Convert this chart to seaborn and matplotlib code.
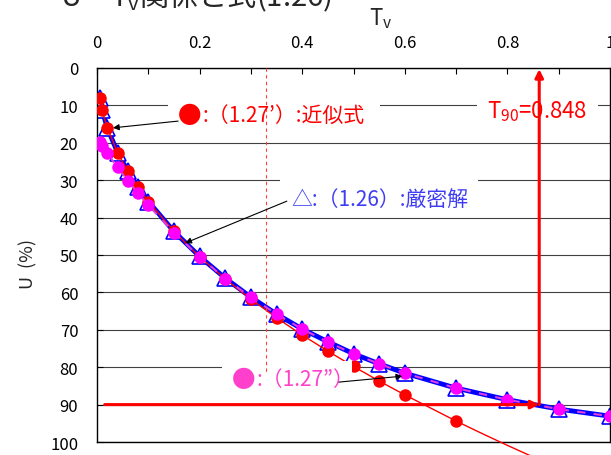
import numpy as np
import pandas as pd
import matplotlib
matplotlib.use("Agg")
import matplotlib.pyplot as plt
import matplotlib.patches as patches
import seaborn as sns

# values
tv = [0.005, 0.01, 0.02, 0.04, 0.06, 0.08, 0.1, 0.15, 0.2, 0.25, 0.3,
      0.35, 0.4, 0.45, 0.5, 0.55, 0.6, 0.7, 0.8, 0.9, 1.0]
u_exact = [8.0, 11.3, 16.0, 22.6, 27.6, 31.9, 35.7, 43.7, 50.4, 56.2, 61.3,
           65.8, 69.8, 73.2, 76.4, 79.1, 81.6, 85.6, 88.7, 91.2, 93.1]
u_mag = [19.9, 20.9, 22.8, 26.6, 30.1, 33.5, 36.7, 44.0, 50.5, 56.3, 61.3,
         65.8, 69.8, 73.3, 76.4, 79.1, 81.6, 85.6, 88.7, 91.2, 93.1]
tv_red = tv[:18]
u_red = [8.0, 11.3, 16.0, 22.6, 27.6, 31.9, 35.7, 43.7, 50.5, 56.4, 61.8,
         66.8, 71.4, 75.7, 79.8, 83.7, 87.4, 94.4]
tv_tail = [0.7, 0.75, 0.8, 0.85]
u_tail = [94.4, 97.7, 100.9, 104.0]

T90 = 0.862
T_dash = 0.33

xticks = [0, 0.2, 0.4, 0.6, 0.8, 1.0]
xticklabels = ["0", "0.2", "0.4", "0.6", "0.8", "1"]
yticks = list(range(0, 101, 10))

sns.set_theme(style="white")
plt.rcParams['font.family'] = ['Noto Sans CJK JP', 'DejaVu Sans']
plt.rcParams['mathtext.fontset'] = 'custom'
plt.rcParams['mathtext.rm'] = 'Noto Sans CJK JP'
plt.rcParams['mathtext.it'] = 'Noto Sans CJK JP'
plt.rcParams['mathtext.default'] = 'rm'

RED = "#FF0000"
BLUE = "#0000FF"
MAG = "#FF00FF"
PINK = "#FF40CC"

fig = plt.figure(figsize=(6.11, 4.56), dpi=100)
ax = fig.add_axes([0.1588, 0.0285, 0.8396, 0.8202])

exact = pd.DataFrame({"Tv": tv, "U": u_exact})
mag = pd.DataFrame({"Tv": tv, "U": u_mag})
red = pd.DataFrame({"Tv": tv_red, "U": u_red})
tail = pd.DataFrame({"Tv": tv_tail, "U": u_tail})

sns.lineplot(data=exact, x="Tv", y="U", estimator=None, sort=False, ax=ax,
             color=BLUE, linewidth=3.5, marker="^", markersize=11,
             markerfacecolor="white", markeredgecolor=BLUE,
             markeredgewidth=1.2, zorder=2)
sns.lineplot(data=tail, x="Tv", y="U", estimator=None, sort=False, ax=ax,
             color=RED, linewidth=1.0, zorder=3, clip_on=False)
sns.lineplot(data=red, x="Tv", y="U", estimator=None, sort=False, ax=ax,
             color=RED, linewidth=1.0, marker="o", markersize=9,
             markeredgewidth=0, zorder=3)
sns.lineplot(data=mag, x="Tv", y="U", estimator=None, sort=False, ax=ax,
             color="#E040E0", linewidth=1.5, linestyle=(0, (4, 4)),
             marker="o", markersize=9, markerfacecolor=MAG,
             markeredgewidth=0, zorder=4)

ax.set_xlim(0, 1)
ax.set_ylim(100, 0)
ax.xaxis.tick_top()
ax.set_xticks(xticks)
ax.set_xticklabels(xticklabels)
ax.set_xticks(np.arange(0.1, 1.0, 0.2), minor=True)
ax.set_yticks(yticks)
ax.tick_params(axis="x", which="both", direction="in", length=4, width=0.8,
               top=True, bottom=False, labeltop=True, labelbottom=False,
               pad=12, labelsize=12, colors="black")
ax.tick_params(axis="y", which="major", direction="in", length=4, width=0.8,
               left=True, pad=13.5, labelsize=12, colors="black")
ax.yaxis.grid(True, color="#404040", linewidth=0.8)
ax.xaxis.grid(False)
ax.set_axisbelow(True)
for s in ax.spines.values():
    s.set_color("black")
    s.set_linewidth(1.0)
ax.set_xlabel("")
ax.set_ylabel("")

# white label boxes covering grid
boxes = [(0.138, 8.3, 0.552, 17.6), (0.741, 5.9, 0.977, 16.0),
         (0.357, 29.1, 0.743, 39.3), (0.244, 78.3, 0.497, 88.5)]
for x0, y0, x1, y1 in boxes:
    ax.add_patch(patches.Rectangle((x0, y0), x1 - x0, y1 - y0,
                                   facecolor="white", edgecolor="none",
                                   zorder=6))

ax.plot([T_dash, T_dash], [0, 81.5], color="#FF4040", lw=0.8,
        linestyle=(0, (3, 3)), zorder=7)

# red arrows for T90
ax.annotate("", xy=(T90, 90), xytext=(0.015, 90), zorder=8,
            arrowprops=dict(arrowstyle="-|>", color=RED, lw=2.2,
                            mutation_scale=12, shrinkA=0, shrinkB=0))
ax.annotate("", xy=(T90, 0.3), xytext=(T90, 90), zorder=8,
            arrowprops=dict(arrowstyle="-|>", color=RED, lw=2.2,
                            mutation_scale=12, shrinkA=0, shrinkB=0))

# black pointer arrows
for tip, start in [((0.031, 16.0), (0.158, 14.2)),
                   ((0.172, 46.8), (0.370, 35.6)),
                   ((0.595, 82.4), (0.470, 84.0))]:
    ax.annotate("", xy=tip, xytext=start, zorder=8,
                arrowprops=dict(arrowstyle="-|>", color="black", lw=0.8,
                                mutation_scale=9, shrinkA=0, shrinkB=0))

ax.text(0.181, 12.8, "●", color=RED, fontsize=17, ha="center", va="center", zorder=9)
ax.text(0.205, 12.8, ":（1.27’）:近似式", color=RED, fontsize=15, ha="left", va="center", zorder=9)
ax.text(0.378, 35.0, "△:（1.26）:厳密解", color="#3D3DF5", fontsize=15, ha="left", va="center", zorder=9)
ax.text(0.285, 83.2, "●", color=PINK, fontsize=17, ha="center", va="center", zorder=9)
ax.text(0.310, 83.2, ":（1.27”）", color=PINK, fontsize=15, ha="left", va="center", zorder=9)
ax.text(0.858, 11.5, "T$_{90}$=0.848", color=RED, fontsize=16, ha="center", va="center", zorder=9)

fig.text(381 / 611, 1 - 19 / 456, "T$_v$", fontsize=16, ha="center", va="center")
fig.text(28 / 611, 1 - 264 / 456, "U  (%)", fontsize=13, rotation=90, ha="center", va="center")
fig.text(60 / 611, 1 - 6 / 456, "U－T$_v$関係と式(1.26)", fontsize=21, ha="left", va="baseline")

fig.savefig("out.png", dpi=100)
